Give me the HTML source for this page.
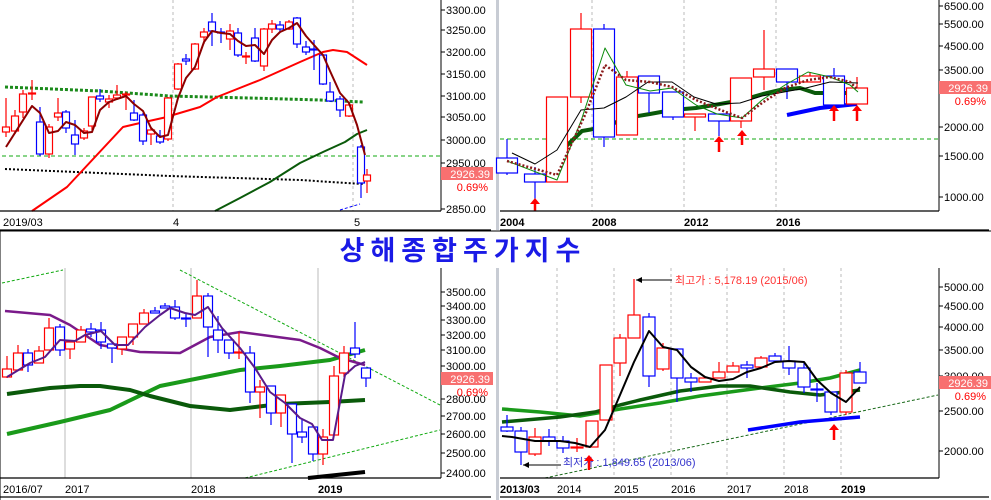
<!DOCTYPE html>
<html><head><meta charset="utf-8"><style>
html,body{margin:0;padding:0;background:#fff;width:991px;height:500px;overflow:hidden}
svg{display:block}
text{font-family:"Liberation Sans",sans-serif;font-size:11px}
</style></head><body>
<svg id="s" width="991" height="500" xmlns="http://www.w3.org/2000/svg">
<rect width="991" height="500" fill="#fff"/>
<text x="463" y="260" text-anchor="middle" fill="#1a1ae6" style="font-family:'Liberation Sans','Noto Sans CJK KR',sans-serif;font-size:27px;font-weight:bold;letter-spacing:6px">상해종합주가지수</text>
</svg>
<script>
var s=document.getElementById('s'),h='';
function L(pts,c,w,d){h+='<polyline fill="none" stroke="'+c+'" stroke-width="'+w+'"'+(d?' stroke-dasharray="'+d+'"':'')+' stroke-linejoin="round" points="'+pts.map(function(p){return p.join(',')}).join(' ')+'"/>';}
function ln(x1,y1,x2,y2,c,w,d){L([[x1,y1],[x2,y2]],c,w||1,d);}
function T(x,y,t,c,a,b){h+='<text x="'+x+'" y="'+y+'" fill="'+(c||'#000')+'"'+(a?' text-anchor="'+a+'"':'')+(b?' font-weight="bold"':'')+'>'+t+'</text>';}
function C(arr,hw){arr.forEach(function(k){var c=k[0]=='r'?'#f00':'#00f',x=k[1];
 ln(x,k[4],x,k[2],c,1.2);ln(x,k[3],x,k[5],c,1.2);
 var hh=Math.max(k[3]-k[2],1);h+='<rect x="'+(x-hw)+'" y="'+k[2]+'" width="'+(2*hw)+'" height="'+hh+'" fill="#fff" stroke="'+c+'" stroke-width="1.2"/>';});}
function arrow(x,y1,y2){ln(x,y1+4,x,y2,'#f00',2.5);h+='<polygon points="'+(x-5)+','+(y1+6)+' '+x+','+y1+' '+(x+5)+','+(y1+6)+'" fill="#f00"/>';}
function frame(x0,x1,yt,yb,yl,labs,xl){
 ln(x0,yb,x1+2,yb,'#000',1.2);ln(x0,yl,x1+52,yl,'#000',1.2);ln(x1+2,yt,x1+2,yb,'#000',1);
 labs.forEach(function(l){ln(x1+2,l[1],x1+6,l[1],'#000',1);T(x1+7,l[1]+4,l[0]);});
 xl.forEach(function(l){T(l[0],yb+15,l[1],'#000',null,l[2]);});}
function box(x,y,pct){h+='<rect x="'+x+'" y="'+y+'" width="52" height="13" fill="#f87070"/>';T(x+49,y+11,'2926.39','#fff','end');T(x+47,y+24,'0.69%','#f00','end');}
// separators
h+='<rect x="496" y="0" width="3" height="230" fill="#c8ccd4"/><rect x="496" y="268" width="3" height="232" fill="#c8ccd4"/>';
ln(0,231,991,231,'#000',1);
// ===== TL =====
[173,353].forEach(function(x){ln(x,0,x,211,'#bbb',1,'3,3');});
ln(2,156,440,156,'#1a1',1,'4,3');
L([[5,169],[170,176],[300,180],[363,184]],'#000',2,'2,2');
L([[5,87],[100,91],[170,96],[250,98],[320,100],[363,102]],'#1a8a1a',3,'3,2');
L([[215,211],[240,198],[270,182],[300,163],[323,152],[345,142],[357,134],[367,130]],'#0a5a0a',2);
L([[32,211],[67,187],[123,127],[140,123],[167,117],[173,115],[200,107],[217,97],[260,80],[300,62],[323,52],[333,50],[347,52],[367,65]],'#f00',2);
C([['r',6,127,132,98,137],['r',15,116,131,110,134],['r',23,94,112,90,118],['r',32,93,94,80,100],['b',40,122,154,107,156],['r',49,127,154,124,158],['r',58,113,117,98,121],['b',66,112,128,110,133],['b',75,135,144,120,155],['r',84,131,138,128,140],['r',92,97,126,97,130],['b',100,96,99,89,102],['r',109,99,102,95,108],['r',117,95,98,85,100],['r',126,94,95,92,110],['b',134,113,120,100,121],['b',143,115,141,113,145],['r',151,130,134,127,145],['b',160,136,142,130,144],['r',168,98,139,97,141],['r',178,64,89,63,90],['b',186,59,61,54,65],['r',195,44,69,43,70],['r',204,32,37,28,44],['b',212,22,31,13,46],['b',221,32,33,28,43],['r',230,31,39,24,50],['b',238,33,55,28,57],['r',246,56,57,52,64],['b',255,38,61,28,62],['r',264,29,66,28,71],['r',272,24,29,20,33],['b',280,25,29,21,32],['r',289,22,29,20,30],['b',297,18,44,17,48],['b',306,47,52,41,55],['b',314,49,50,40,70],['b',323,55,84,55,85],['b',330,92,101,82,102],['b',340,99,110,96,117],['r',349,105,116,102,117],['b',361,147,183,145,198],['r',367,175,181,169,193]],3.5);
L([[6,147],[32,106],[40,113],[49,133],[58,131],[66,122],[75,125],[84,133],[92,132],[100,110],[109,102],[117,99],[126,96],[134,104],[143,111],[151,128],[160,137],[168,135],[178,98],[186,78],[195,67],[204,42],[212,31],[221,33],[230,34],[238,41],[246,46],[255,45],[264,54],[272,40],[280,32],[289,28],[297,23],[306,36],[314,45],[323,55],[330,71],[340,93],[349,103],[357,125],[365,155]],'#8b0000',2);
L([[340,210],[360,204]],'#00f',1,'3,2');
frame(0,439,0,211,230,[['3300.00',10],['3250.00',30],['3200.00',52],['3150.00',74],['3100.00',96],['3050.00',117],['3000.00',140],['2950.00',163],['2850.00',209]],[[3,'2019/03'],[173,'4'],[354,'5']]);
box(441,167);
// ===== TR =====
[592,684,776].forEach(function(x){ln(x,0,x,211,'#bbb',1,'3,3');});
ln(500,139,939,139,'#1a1',1,'4,3');
L([[557,155],[582,131],[605,127],[626,118],[650,114],[672,110],[696,108],[720,104],[742,100],[763,94],[780,90],[800,88],[815,93],[830,93],[858,93]],'#0a5a0a',4);
L([[787,115],[820,108],[857,104]],'#0000ff',4);
C([['b',507,158,173,139,175],['b',535,174,182,167,200],['r',557,97,182,97,182],['r',581,29,97,13,103],['b',604,29,137,24,147],['r',627,77,135,71,135],['b',649,76,93,76,113],['b',673,92,117,92,120],['r',695,114,117,114,131],['b',719,114,121,114,136],['r',741,78,121,78,128],['r',764,69,77,30,90],['b',787,69,82,69,99],['r',810,76,82,72,82],['b',834,76,105,68,105],['r',857,88,104,77,104]],10.5);
L([[512,153],[535,164],[557,150],[581,110],[604,108],[626,97],[648,82],[672,82],[694,97],[716,104],[740,103],[762,96],[784,92],[806,88],[830,82],[858,83]],'#000',1);
L([[507,161],[557,180],[581,121],[605,48],[626,85],[650,91],[672,88],[696,105],[717,114],[742,118],[762,100],[785,85],[808,72],[830,77],[850,85],[858,92]],'#0a8a0a',1);
L([[507,161],[557,175],[585,115],[605,65],[626,80],[650,82],[672,87],[696,100],[718,109],[742,118],[762,103],[785,88],[808,80],[830,77],[850,82],[858,90]],'#8b1a1a',2.5,'2,2');
arrow(535,198,211);arrow(719,136,152);arrow(742,130,145);arrow(834,105,121);arrow(857,105,121);
frame(500,937,0,211,230,[['6500.00',6],['5500.00',24],['4500.00',46],['3500.00',70],['2000.00',127],['1500.00',156],['1000.00',197]],[[500,'2004',1],[592,'2008',1],[684,'2012',1],[776,'2016',1]]);
box(939,81);
// ===== BL =====
ln(0,231,0,500,'#000',1);
[65,191,318].forEach(function(x){ln(x,268,x,478,'#bbb',1);});
ln(2,283,63,270,'#1a1',1,'3,2');ln(180,270,440,405,'#1a1',1,'3,2');ln(245,478,440,430,'#1a1',1,'3,2');
L([[7,434],[60,422],[110,410],[160,386],[200,378],[240,370],[280,366],[330,360],[365,350]],'#1a9a1a',4);
L([[7,394],[50,388],[80,386],[100,386],[130,390],[150,396],[190,406],[230,410],[280,404],[330,402],[365,400]],'#0a5a0a',4);
L([[5,311],[50,315],[70,325],[100,345],[140,352],[180,353],[210,337],[240,332],[270,336],[300,340],[320,348],[340,358],[365,365]],'#7a1a8a',2.5);
L([[308,478],[365,472]],'#000',4);
C([['r',7,369,377,356,378],['r',18,353,370,345,370],['b',28,353,365,349,372],['r',39,351,363,346,363],['r',49,328,350,318,350],['b',60,327,350,324,356],['r',70,342,349,342,359],['r',81,330,342,326,342],['b',91,329,332,323,337],['b',101,330,342,322,349],['b',112,344,348,344,363],['r',122,337,349,337,355],['r',133,324,337,324,345],['r',144,313,324,309,324],['b',155,311,313,307,313],['b',165,306,308,303,308],['b',175,307,318,300,320],['b',186,318,319,313,327],['r',197,296,318,280,318],['b',208,296,327,293,357],['b',218,330,340,316,353],['b',229,340,353,340,359],['r',239,352,353,332,359],['b',250,353,392,346,403],['r',260,387,392,380,418],['b',271,386,413,386,425],['r',281,395,413,395,427],['b',292,404,434,404,463],['b',302,432,437,419,443],['b',313,427,454,427,461],['r',323,437,454,429,465],['r',334,376,435,366,435],['r',344,353,373,346,377],['b',355,348,354,322,358],['b',366,368,378,368,387]],4.5);
L([[7,377],[30,363],[45,357],[60,340],[75,341],[85,335],[101,331],[115,345],[128,345],[145,327],[160,315],[170,308],[185,313],[195,315],[208,307],[222,328],[240,348],[255,368],[270,392],[285,403],[300,418],[312,424],[322,440],[333,440],[345,375],[355,366],[365,362]],'#5a1a8a',2);
frame(0,439,268,478,497,[['3500.00',292],['3400.00',306],['3300.00',320],['3200.00',335],['3100.00',350],['3000.00',366],['2800.00',399],['2700.00',416],['2600.00',434],['2500.00',453],['2400.00',473]],[[3,'2016/07'],[65,'2017'],[191,'2018'],[318,'2019',1]]);
box(441,372);
// ===== BR =====
[557,614,671,727,784,841].forEach(function(x){ln(x,268,x,478,'#bbb',1,'3,3');});
ln(545,478,938,395,'#1a6a1a',1,'3,2');
L([[502,409],[540,412],[580,416],[620,409],[660,403],[700,396],[760,388],[800,383],[830,378],[860,370]],'#1a9a1a',3.5);
L([[502,422],[560,417],[595,412],[620,405],[640,400],[680,391],[720,386],[750,386],[790,392],[820,395],[860,390]],'#0a5a0a',3.5);
L([[748,430],[800,422],[860,417]],'#00f',3.5);
C([['b',507,427,431,415,432],['b',521,431,452,427,465],['r',535,437,454,428,456],['b',549,437,441,429,446],['b',563,441,448,436,453],['r',577,447,448,438,452],['r',592,421,447,421,447],['r',606,365,420,365,420],['r',620,338,363,334,376],['r',634,315,338,279,338],['b',649,317,376,313,387],['r',663,348,369,343,371],['b',677,349,378,349,402],['b',691,378,382,373,392],['r',705,378,382,378,382],['r',719,372,378,362,378],['r',733,366,372,362,372],['b',747,365,368,361,378],['r',761,358,367,356,367],['b',775,356,361,353,361],['b',789,361,368,346,375],['b',804,368,387,363,393],['b',817,389,390,383,402],['b',831,392,412,392,415],['r',846,373,412,370,415],['b',860,372,383,362,383]],6);
L([[502,436],[512,437],[535,441],[560,441],[575,443],[590,447],[605,430],[620,395],[634,362],[649,331],[663,347],[677,350],[691,367],[705,377],[719,381],[733,379],[747,372],[761,368],[775,362],[789,361],[804,362],[817,380],[831,393],[846,402],[860,387]],'#000',2);
ln(636,280,672,280,'#000',1);h+='<polygon points="636,280 642,277 642,283" fill="#000"/>';
T(675,284,'최고가 : 5,178.19 (2015/06)','#f33');
ln(523,465,561,465,'#000',1);h+='<polygon points="523,465 529,462 529,468" fill="#000"/>';
T(563,466,'최저가 : 1,849.65 (2013/06)','#33c');
arrow(589,455,470);arrow(834,424,440);
frame(500,937,268,478,497,[['5000.00',287],['4500.00',306],['4000.00',327],['3500.00',350],['3000.00',376],['2500.00',411],['2000.00',451]],[[500,'2013/03',1],[557,'2014'],[614,'2015'],[671,'2016'],[727,'2017'],[784,'2018'],[841,'2019',1]]);
box(939,376);
s.innerHTML+=h;
</script>
</body></html>
